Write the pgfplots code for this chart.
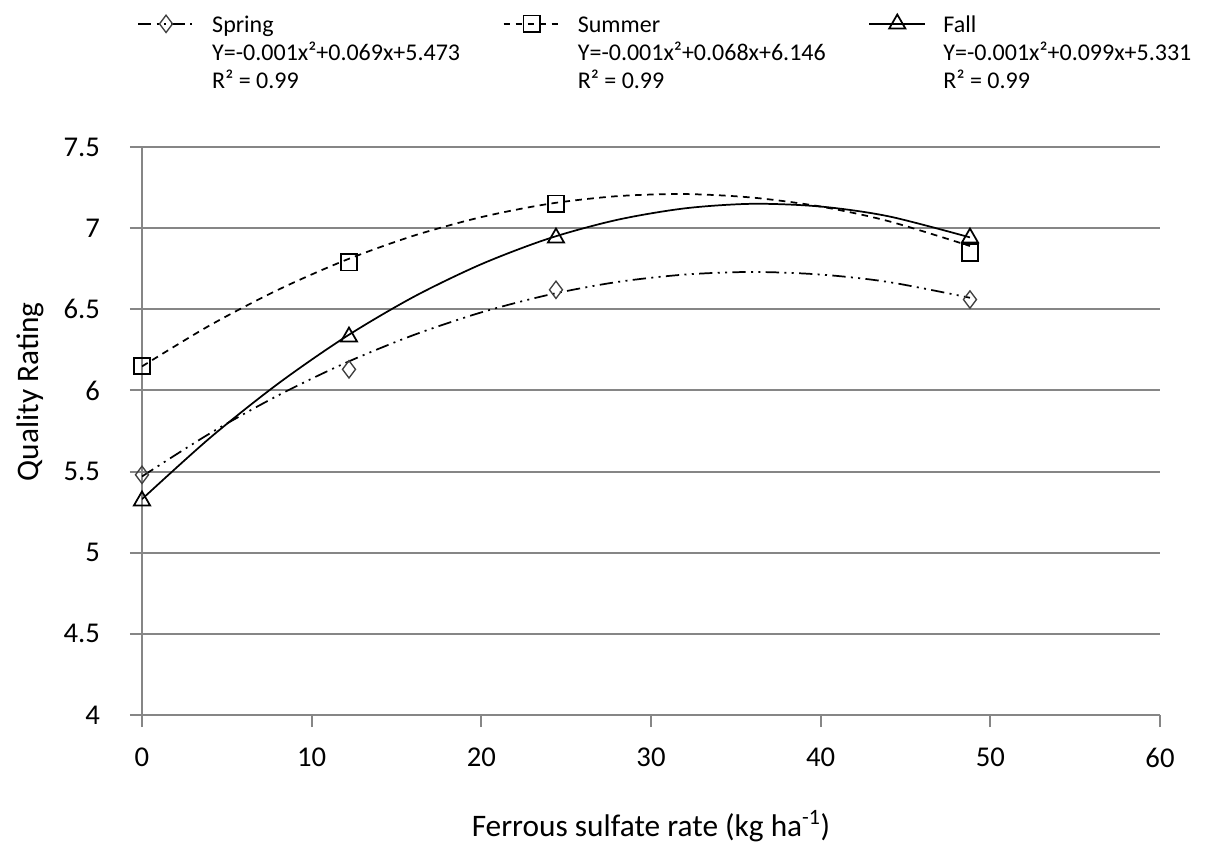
\documentclass[border=0pt]{standalone}
\usepackage{pgfplots}
\usepackage{pgfplotstable}
\pgfplotsset{compat=1.18}
\usepackage{fontspec}
\setmainfont{Carlito}

\definecolor{axgray}{RGB}{134,134,134}

\pgfplotstableread{
x spring summer fall
0    5.48 6.15 5.32
12.2 6.13 6.79 6.33
24.4 6.62 7.15 6.94
48.8 6.56 6.85 6.94
}\datatable

\pgfplotstableread{
x spring summer fall
0    5.470 6.148 5.330
4    5.735 6.401 5.707
8    5.968 6.619 6.040
12   6.170 6.803 6.330
16   6.341 6.953 6.576
20   6.481 7.068 6.778
24   6.590 7.150 6.937
28   6.668 7.197 7.051
32   6.714 7.210 7.122
36   6.730 7.188 7.150
40   6.714 7.133 7.133
44   6.668 7.043 7.073
48.8 6.571 6.890 6.943
}\fittable

\tikzset{
  springline/.style={line width=1.3pt, dash pattern=on 10pt off 4pt on 1.5pt off 4pt on 1.5pt off 4pt},
  summerline/.style={line width=1.3pt, dash pattern=on 5pt off 4pt},
  fallline/.style={line width=1.3pt, solid},
}

\begin{document}
\begin{tikzpicture}
\useasboundingbox (-106.5pt,-98.25pt) rectangle (811.5pt,536.25pt);
\begin{axis}[
  at={(0pt,0pt)}, anchor=south west, scale only axis,
  width=763.5pt, height=426pt,
  xmin=0, xmax=60, ymin=4, ymax=7.5,
  xtick={0,10,...,60}, ytick={4,4.5,...,7.5},
  axis x line=bottom, axis y line=left,
  axis line style={axgray, line width=1.5pt, -},
  tick align=outside, major tick length=9pt,
  tick style={axgray, line width=1.5pt},
  ymajorgrids, grid style={axgray, line width=1.5pt},
  /pgf/number format/assume math mode=true,
  ticklabel style={font=\fontsize{21.5}{25}\selectfont, text=black},
  xticklabel style={yshift=-12pt},
  yticklabel style={xshift=-19pt},
  xlabel={Ferrous sulfate rate (kg ha\textsuperscript{-1})},
  ylabel={Quality Rating},
  label style={font=\fontsize{23.5}{27}\selectfont},
  xlabel style={at={(axis description cs:0.5,-0.195)}, anchor=center},
  ylabel style={at={(axis description cs:-0.110,0.569)}, anchor=center},
  legend columns=3,
  legend style={at={(axis description cs:-0.005,1.241)}, anchor=north west,
    draw=none, fill=none, inner sep=0pt,
    font=\fontsize{18}{21}\selectfont,
    /tikz/every odd column/.append style={column sep=11pt},
    /tikz/every even column/.append style={column sep=30pt}},
  legend cell align=left,
  legend image code/.code={\draw[mark repeat=2, mark phase=2, #1] plot coordinates {(0pt,0pt) (21pt,0pt) (42pt,0pt)};},
]
\addplot[springline, black, no markers, smooth, forget plot] table[x=x, y=spring] {\fittable};
\addplot[summerline, black, no markers, smooth, forget plot] table[x=x, y=summer] {\fittable};
\addplot[fallline, black, no markers, smooth, forget plot] table[x=x, y=fall] {\fittable};

\addplot[springline, black, only marks, mark=diamond, mark size=6.5pt,
  mark options={solid, draw=black!75, fill=white, line width=1pt},
  legend image post style={sharp plot}] table[x=x, y=spring] {\datatable};
\addlegendentry{\begin{tabular}[t]{@{}l@{}}Spring\\Y=-0.001x²+0.069x+5.473\\R² = 0.99\end{tabular}}
\addplot[summerline, black, only marks, mark=square, mark size=6.2pt,
  mark options={solid, fill=white, line width=1.3pt},
  legend image post style={sharp plot}] table[x=x, y=summer] {\datatable};
\addlegendentry{\begin{tabular}[t]{@{}l@{}}Summer\\Y=-0.001x²+0.068x+6.146\\R² = 0.99\end{tabular}}
\addplot[fallline, black, only marks, mark=triangle, mark size=7pt,
  mark options={solid, fill=white, line width=1.3pt},
  legend image post style={sharp plot}] table[x=x, y=fall] {\datatable};
\addlegendentry{\begin{tabular}[t]{@{}l@{}}Fall\\Y=-0.001x²+0.099x+5.331\\R² = 0.99\end{tabular}}
\end{axis}
\end{tikzpicture}
\end{document}
